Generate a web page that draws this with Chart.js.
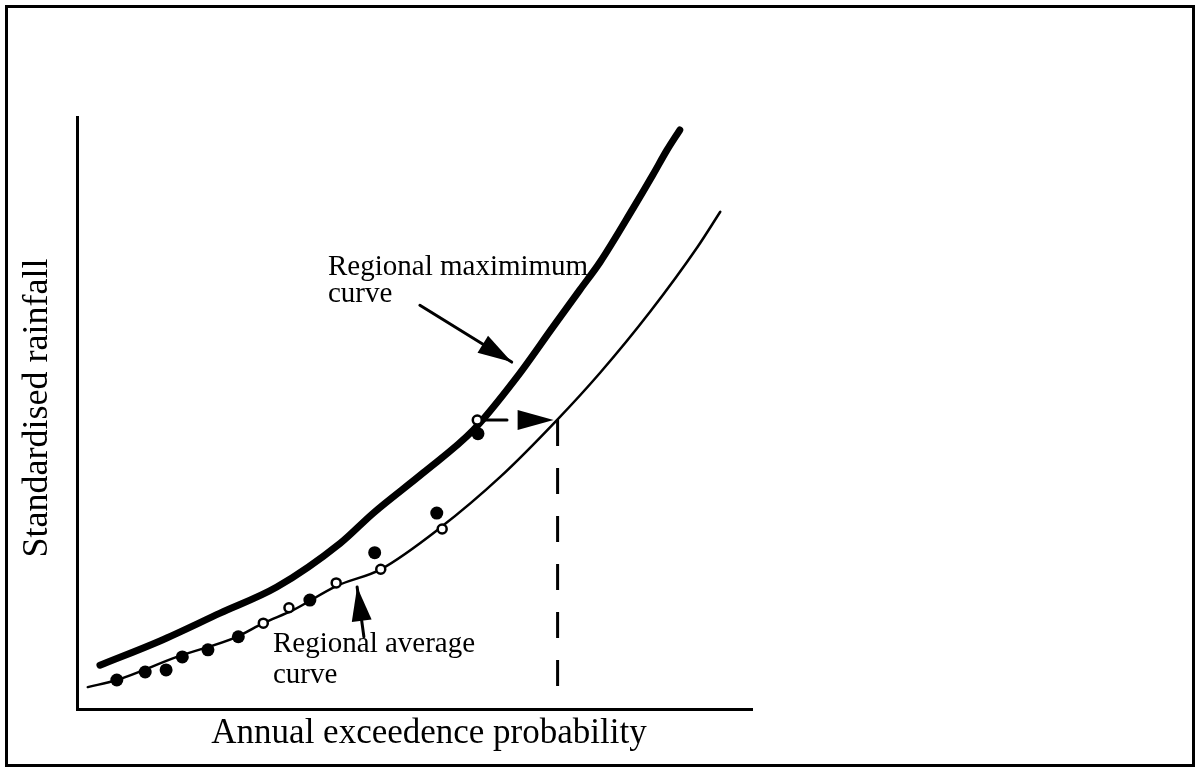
<!DOCTYPE html>
<html>
<head>
<meta charset="utf-8">
<script src="https://cdn.jsdelivr.net/npm/chart.js@4.4.1/dist/chart.umd.min.js"></script>
<style>
  html, body { margin: 0; padding: 0; background: #fff; }
  #wrap { width: 1200px; height: 772px; }
</style>
</head>
<body>
<div id="wrap"><canvas id="chart"></canvas></div>
<script>
// Regional maximum curve (thick line)
const maxCurveX = [3.4, 12.3, 21.2, 29.6, 39.0, 43.9, 51.3, 58.7, 65.2, 70.5, 74.5, 77.5, 82.4, 85.3, 87.4, 89.3];
const maxCurveY = [7.4, 11.5, 16.2, 20.6, 28.0, 33.1, 39.9, 47.1, 56.1, 64.5, 70.8, 75.5, 84.6, 90.2, 94.4, 97.8];

// Regional average curve (thin line)
const avgCurveX = [1.6, 5.9, 14.8, 23.7, 27.6, 32.0, 38.5, 45.0, 53.8, 62.7, 71.1, 77.5, 84.9, 91.9, 95.3];
const avgCurveY = [3.7, 4.9, 8.8, 12.2, 14.5, 16.7, 20.8, 23.6, 30.6, 39.2, 48.8, 56.8, 67.1, 78.0, 84.0];

// Site observations: filled and open dots
const filledX = [5.9, 10.1, 13.2, 15.6, 19.4, 23.9, 34.5, 44.1, 53.3, 59.4];
const filledY = [4.9, 6.25, 6.6, 8.8, 10.0, 12.2, 18.4, 26.4, 33.1, 46.5];
const openX = [27.6, 31.4, 38.4, 45.0, 54.1, 59.3];
const openY = [14.5, 17.1, 21.3, 23.6, 30.4, 48.8];

// Read-off point on the average curve, dashed down to the x axis
const readX = [71.2, 71.2];
const readY = [48.8, 3.2];

const toPoints = (xs, ys) => xs.map((v, i) => ({ x: v, y: ys[i] }));

// arrows in data units: [fromX, fromY, toX, toY]
const arrows = [
    [50.8, 68.2, 64.4, 58.6],
    [42.5, 12.2, 41.5, 20.6]
];

const SERIF = '"Liberation Serif", "Times New Roman", serif';

function arrowHead(ctx, fx, fy, tx, ty, len, half) {
    const a = Math.atan2(ty - fy, tx - fx);
    const bx = tx - len * Math.cos(a), by = ty - len * Math.sin(a);
    ctx.beginPath();
    ctx.moveTo(tx, ty);
    ctx.lineTo(bx + half * Math.sin(a), by - half * Math.cos(a));
    ctx.lineTo(bx - half * Math.sin(a), by + half * Math.cos(a));
    ctx.closePath();
    ctx.fill();
}

const decorations = {
    id: 'decorations',
    beforeDraw(chart) {
        const ctx = chart.ctx;
        ctx.save();
        ctx.fillStyle = '#fff';
        ctx.fillRect(0, 0, chart.width, chart.height);
        ctx.strokeStyle = '#000';
        ctx.lineWidth = 3;
        ctx.strokeRect(6.5, 6.5, chart.width - 13, chart.height - 13);
        ctx.restore();
    },
    afterDatasetsDraw(chart) {
        const { ctx, scales: { x, y } } = chart;
        ctx.save();
        ctx.strokeStyle = '#000';
        ctx.fillStyle = '#000';
        ctx.lineWidth = 3;
        ctx.lineCap = 'round';

        arrows.forEach(([fx, fy, tx, ty]) => {
            const x1 = x.getPixelForValue(fx), y1 = y.getPixelForValue(fy);
            const x2 = x.getPixelForValue(tx), y2 = y.getPixelForValue(ty);
            ctx.beginPath();
            ctx.moveTo(x1, y1);
            ctx.lineTo(x2, y2);
            ctx.stroke();
            arrowHead(ctx, x1, y1, x2, y2, 34, 10);
        });

        // horizontal read-off arrow from max curve to average curve
        const hy = y.getPixelForValue(readY[0]);
        ctx.beginPath();
        ctx.moveTo(x.getPixelForValue(60.1), hy);
        ctx.lineTo(x.getPixelForValue(63.7), hy);
        ctx.stroke();
        const tipX = x.getPixelForValue(readX[0]) - 4;
        arrowHead(ctx, tipX - 36, hy, tipX, hy, 36, 10);

        // labels
        ctx.textAlign = 'left';
        ctx.textBaseline = 'alphabetic';
        ctx.font = '29px ' + SERIF;
        ctx.fillText('Regional maximimum', 328, 275);
        ctx.fillText('curve', 328, 302);
        ctx.fillText('Regional average', 273, 652);
        ctx.fillText('curve', 273, 683);

        // axis titles
        ctx.font = '35px ' + SERIF;
        ctx.textAlign = 'center';
        ctx.fillText('Annual exceedence probability', 429, 743);
        ctx.translate(47, 408);
        ctx.rotate(-Math.PI / 2);
        ctx.font = '36px ' + SERIF;
        ctx.fillText('Standardised rainfall', 0, 0);
        ctx.restore();
    }
};

const axisOpts = {
    type: 'linear',
    min: 0,
    max: 100,
    grid: { display: false, drawTicks: false },
    ticks: { display: false },
    border: { display: true, color: '#000', width: 3 }
};

new Chart(document.getElementById('chart'), {
    type: 'scatter',
    data: {
        datasets: [
            {
                label: 'Open',
                data: toPoints(openX, openY),
                pointRadius: 4.5,
                pointBorderWidth: 2.5,
                pointBackgroundColor: '#fff',
                pointBorderColor: '#000',
                order: 0
            },
            {
                label: 'Filled',
                data: toPoints(filledX, filledY),
                pointRadius: 6.5,
                pointBorderWidth: 0,
                pointBackgroundColor: '#000',
                order: 1
            },
            {
                label: 'Regional maximum curve',
                data: toPoints(maxCurveX, maxCurveY),
                showLine: true,
                borderColor: '#000',
                borderWidth: 7,
                pointRadius: 0,
                cubicInterpolationMode: 'monotone',
                borderCapStyle: 'round',
                borderJoinStyle: 'round',
                order: 2
            },
            {
                label: 'Regional average curve',
                data: toPoints(avgCurveX, avgCurveY),
                showLine: true,
                borderColor: '#000',
                borderWidth: 2.5,
                pointRadius: 0,
                cubicInterpolationMode: 'monotone',
                borderCapStyle: 'round',
                order: 3
            },
            {
                label: 'Read-off',
                data: toPoints(readX, readY),
                showLine: true,
                borderColor: '#000',
                borderWidth: 3,
                borderDash: [26, 22],
                pointRadius: 0,
                order: 4
            }
        ]
    },
    options: {
        responsive: true,
        maintainAspectRatio: false,
        animation: false,
        layout: { padding: { left: 77, right: 448, top: 117, bottom: 63 } },
        plugins: {
            legend: { display: false },
            tooltip: { enabled: false }
        },
        scales: {
            x: axisOpts,
            y: axisOpts
        }
    },
    plugins: [decorations]
});
</script>
</body>
</html>
